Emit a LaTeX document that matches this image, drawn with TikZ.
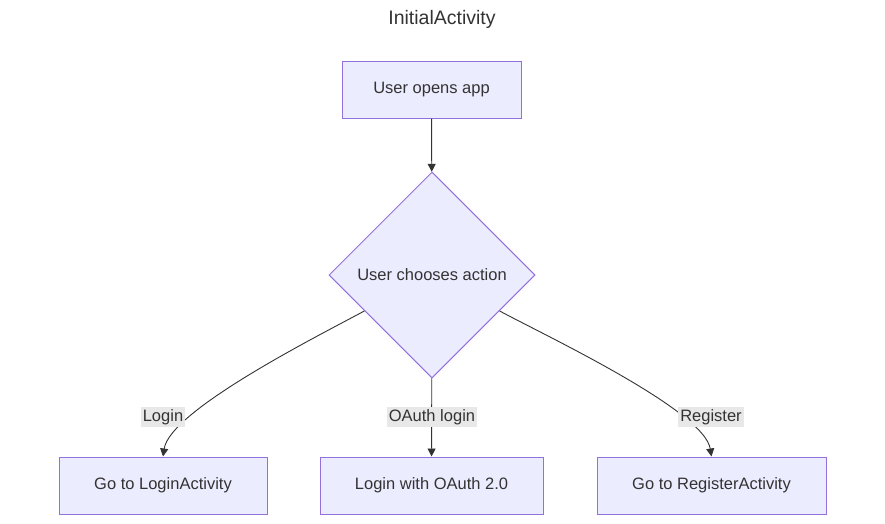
\documentclass[tikz,border=0pt]{standalone}
\usepackage{fontspec}
\setmainfont{Liberation Sans}
\usepackage{xcolor}
\usepackage{tikz}
\usetikzlibrary{shapes.geometric,arrows.meta}

\definecolor{boxfill}{HTML}{ECECFF}
\definecolor{boxline}{HTML}{9370DB}
\definecolor{edgeline}{HTML}{333333}
\definecolor{lblfill}{HTML}{E8E8E8}

\tikzset{
    box/.style={draw=boxline, fill=boxfill, line width=1pt, minimum height=57pt, inner sep=0pt,
        font=\fontsize{16.5}{19}\selectfont, text=edgeline},
    decision/.style={draw=boxline, fill=boxfill, line width=1pt, diamond, aspect=1, minimum size=206pt,
        inner sep=0pt, font=\fontsize{16.5}{19}\selectfont, text=edgeline},
    lbl/.style={fill=lblfill, inner sep=2pt, font=\fontsize{16.5}{19}\selectfont, text=edgeline},
    flow/.style={draw=edgeline, line width=0.9pt, -{Triangle[length=8pt,width=8pt]}}
}

\begin{document}
\begin{tikzpicture}[x=1pt,y=-1pt]
    \useasboundingbox (0,0) rectangle (885,523);
    \node[font=\fontsize{19.5}{22}\selectfont, text=edgeline] (title) at (442,19) {InitialActivity};
    \node[box, minimum width=179pt] (open) at (431.5,89.5) {User opens app};
    \node[decision] (choose) at (432,275) {User chooses action};
    \node[box, minimum width=208pt] (login) at (163,485.5) {Go to LoginActivity};
    \node[box, minimum width=223pt] (oauth) at (431.5,485.5) {Login with OAuth 2.0};
    \node[box, minimum width=229pt] (register) at (711.5,485.5) {Go to RegisterActivity};
    \draw[flow] (open) -- (choose);
    \draw[flow] (choose.208) .. controls (320,335) and (170,410) .. (login.north);
    \draw[flow] (choose) -- (oauth);
    \draw[flow] (choose.332) .. controls (544,335) and (704,410) .. (register.north);
    \node[lbl] (l1) at (163,417) {Login};
    \node[lbl] (l2) at (432,417) {OAuth login};
    \node[lbl] (l3) at (711,417) {Register};
\end{tikzpicture}
\end{document}
